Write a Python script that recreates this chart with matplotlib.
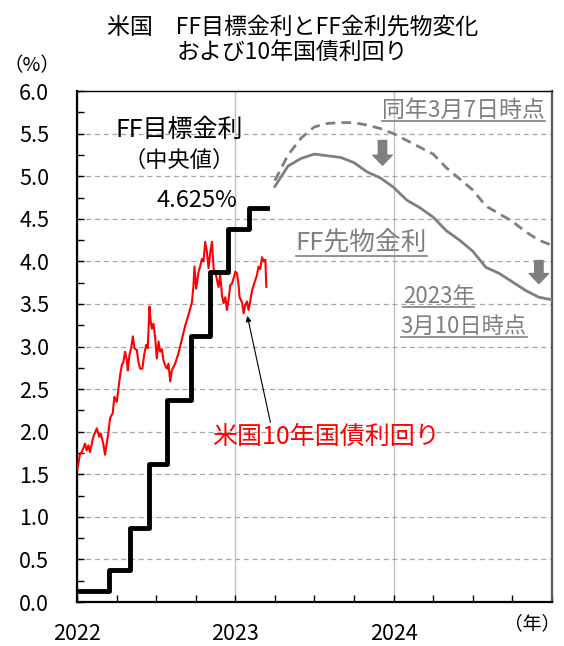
import matplotlib
matplotlib.use("Agg")
import matplotlib.pyplot as plt
from matplotlib.lines import Line2D
from matplotlib.ticker import MultipleLocator, FormatStrFormatter

plt.rcParams['font.family'] = ['Noto Sans CJK JP', 'DejaVu Sans']

# FF target rate (mid point), step start dates in decimal years
ff_dates = [2022.0, 2022.204, 2022.337, 2022.452, 2022.567, 2022.721,
            2022.838, 2022.953, 2023.085, 2023.2]
ff_rate = [0.125, 0.375, 0.875, 1.625, 2.375, 3.125, 3.875, 4.375, 4.625, 4.625]

# US 10y yield, decimal years
ust_t = [2022.002, 2022.019, 2022.030, 2022.051, 2022.061, 2022.072, 2022.082, 2022.103,
         2022.125, 2022.141, 2022.150, 2022.166, 2022.177, 2022.184, 2022.198, 2022.209,
         2022.226, 2022.236, 2022.251, 2022.261, 2022.272, 2022.283, 2022.293, 2022.304,
         2022.315, 2022.321, 2022.331, 2022.342, 2022.353, 2022.363, 2022.378, 2022.388,
         2022.399, 2022.413, 2022.424, 2022.437, 2022.447, 2022.458, 2022.466, 2022.473,
         2022.483, 2022.494, 2022.504, 2022.515, 2022.525, 2022.536, 2022.546, 2022.557,
         2022.568, 2022.578, 2022.589, 2022.599, 2022.620, 2022.641, 2022.663, 2022.684,
         2022.704, 2022.726, 2022.736, 2022.742, 2022.753, 2022.768, 2022.778, 2022.789,
         2022.799, 2022.810, 2022.821, 2022.831, 2022.842, 2022.853, 2022.863, 2022.878,
         2022.894, 2022.905, 2022.916, 2022.926, 2022.937, 2022.947, 2022.958, 2022.968,
         2022.979, 2022.989, 2023.000, 2023.011, 2023.021, 2023.027, 2023.042, 2023.053,
         2023.063, 2023.074, 2023.084, 2023.095, 2023.106, 2023.116, 2023.137, 2023.147,
         2023.158, 2023.169, 2023.179, 2023.190, 2023.196]
ust_y = [1.55, 1.74, 1.76, 1.86, 1.78, 1.84, 1.76, 1.94,
         2.04, 1.94, 1.98, 1.86, 1.73, 1.82, 1.98, 2.16,
         2.22, 2.41, 2.35, 2.49, 2.66, 2.78, 2.82, 2.94,
         2.84, 2.72, 2.90, 2.98, 3.12, 2.98, 2.96, 2.82,
         2.74, 2.74, 2.90, 3.02, 2.98, 3.47, 3.29, 3.21,
         3.27, 3.10, 2.86, 3.06, 2.94, 2.97, 2.84, 2.78,
         2.74, 2.80, 2.59, 2.72, 2.80, 2.92, 3.09, 3.25,
         3.37, 3.52, 3.72, 3.94, 3.68, 3.88, 3.94, 4.03,
         4.00, 4.23, 4.11, 3.92, 4.11, 4.23, 3.92, 3.84,
         3.70, 3.84, 3.60, 3.51, 3.58, 3.43, 3.56, 3.72,
         3.74, 3.80, 3.88, 3.86, 3.72, 3.58, 3.52, 3.39,
         3.49, 3.53, 3.43, 3.54, 3.66, 3.72, 3.84, 3.94,
         3.91, 4.05, 4.00, 4.02, 3.70]

# FF futures implied rate by contract month
fut_months = ["2023-04", "2023-05", "2023-06", "2023-07", "2023-08", "2023-09",
              "2023-10", "2023-11", "2023-12", "2024-01", "2024-02", "2024-03",
              "2024-04", "2024-05", "2024-06", "2024-07", "2024-08", "2024-09",
              "2024-10", "2024-11", "2024-12", "2025-01"]
fut_mar10 = [4.88, 5.12, 5.21, 5.26, 5.24, 5.22, 5.16, 5.05, 4.98, 4.87, 4.72,
             4.63, 4.52, 4.36, 4.25, 4.12, 3.93, 3.86, 3.76, 3.66, 3.58, 3.55]
fut_mar7 = [4.95, 5.25, 5.45, 5.58, 5.62, 5.63, 5.63, 5.60, 5.56, 5.50, 5.42,
            5.34, 5.26, 5.10, 4.97, 4.84, 4.65, 4.56, 4.47, 4.35, 4.25, 4.19]

year_labels = ["2022", "2023", "2024"]

fut_t = [int(m[:4]) + (int(m[5:]) - 1) / 12 for m in fut_months]

GRAY = '#7f7f7f'

fig = plt.figure(figsize=(5.64, 6.46), dpi=100)
ax = fig.add_axes([0.1365, 0.068, 0.842, 0.791])

ax.step(ff_dates, ff_rate, where='post', color='black', lw=3.5, zorder=4)
ax.plot(ust_t, ust_y, color='#ff0000', lw=1.5, zorder=3)
ax.plot(fut_t, fut_mar7, color=GRAY, lw=2.0, ls=(0, (3.5, 2.2)), zorder=3)
ax.plot(fut_t, fut_mar10, color=GRAY, lw=2.0, zorder=3)

ax.set_xlim(2022, 2025)
ax.set_ylim(0, 6)
ax.set_xticks([2022, 2023, 2024])
ax.set_xticklabels(year_labels)
ax.xaxis.set_minor_locator(MultipleLocator(0.25))
ax.yaxis.set_major_locator(MultipleLocator(0.5))
ax.yaxis.set_minor_locator(MultipleLocator(0.25))
ax.yaxis.set_major_formatter(FormatStrFormatter('%.1f'))
ax.tick_params(which='both', direction='in', length=5, width=1, color='black')
ax.tick_params(axis='y', labelsize=15.5, pad=20)
ax.tick_params(axis='x', labelsize=15.5, pad=15)

ax.yaxis.grid(True, color='#a6a6a6', ls=(0, (4, 3)), lw=0.9)
ax.xaxis.grid(True, color='#bfbfbf', lw=1.0)
ax.set_axisbelow(True)
for s in ['left', 'bottom']:
    ax.spines[s].set_linewidth(1.6)
ax.spines['top'].set_linewidth(1.0)
ax.spines['right'].set_linewidth(1.6)
ax.spines['right'].set_color('#595959')

# labels
ax.text(2022.646, 5.54, 'FF目標金利', fontsize=18, ha='center', va='center')
ax.text(2022.646, 5.19, '（中央値）', fontsize=16, ha='center', va='center')
ax.text(2022.759, 4.72, '4.625%', fontsize=17, ha='center', va='center')
ax.text(2023.573, 1.94, '米国10年国債利回り', fontsize=18, color='#ff0000',
        ha='center', va='center')
ax.annotate('', xy=(2023.076, 3.36), xytext=(2023.222, 2.11),
            arrowprops=dict(arrowstyle='-|>', color='black', lw=0.8,
                            mutation_scale=8, shrinkA=0, shrinkB=0))

under = []
under.append(ax.text(2024.44, 5.77, '同年3月7日時点', fontsize=16.5, color=GRAY,
                     ha='center', va='center'))
under.append(ax.text(2023.797, 4.21, 'FF先物金利', fontsize=18.5, color=GRAY,
                     ha='center', va='center'))
under.append(ax.text(2024.057, 3.59, '2023年', fontsize=16, color=GRAY,
                     ha='left', va='center'))
under.append(ax.text(2024.044, 3.24, '3月10日時点', fontsize=16, color=GRAY,
                     ha='left', va='center'))

arrow_style = 'simple,head_length=0.36,head_width=0.7,tail_width=0.3'
ax.annotate('', xy=(2023.93, 5.13), xytext=(2023.93, 5.42),
            arrowprops=dict(arrowstyle=arrow_style, color=GRAY, mutation_scale=20,
                            shrinkA=0, shrinkB=0))
ax.annotate('', xy=(2024.918, 3.74), xytext=(2024.918, 4.01),
            arrowprops=dict(arrowstyle=arrow_style, color=GRAY, mutation_scale=20,
                            shrinkA=0, shrinkB=0))

fig.text(0.518, 0.958, '米国　FF目標金利とFF金利先物変化', fontsize=16.5,
         ha='center', va='center')
fig.text(0.518, 0.919, 'および10年国債利回り', fontsize=16.5, ha='center', va='center')
fig.text(0.056, 0.898, '（%）', fontsize=14, ha='center', va='center')
fig.text(0.993, 0.034, '（年）', fontsize=13.5, ha='right', va='center')

# underline the gray labels
fig.canvas.draw()
inv = fig.transFigure.inverted()
for t in under:
    bb = t.get_window_extent()
    (x0, y0), (x1, _) = inv.transform([(bb.x0, bb.y0 + 1), (bb.x1, bb.y0 + 1)])
    fig.add_artist(Line2D([x0, x1], [y0, y0], color=GRAY, lw=1.2))

fig.savefig('out.png', dpi=100)
